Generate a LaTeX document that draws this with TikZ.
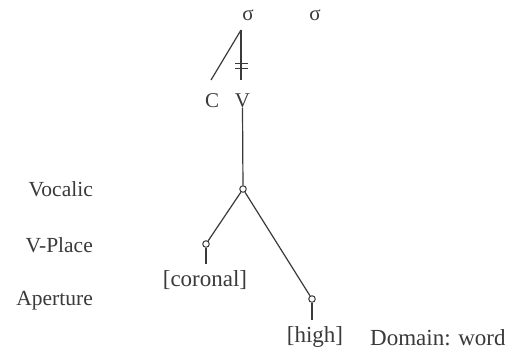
\documentclass[tikz,border=0pt]{standalone}
\usepackage{fontspec}
\setmainfont{Liberation Serif}
\definecolor{ink}{HTML}{3A3A3A}
\begin{document}
\begin{tikzpicture}[x=1pt,y=-1pt,
  every node/.style={inner sep=0pt, text=ink, font=\fontsize{21}{24}\selectfont},
  lbl/.style={anchor=base},
  tier/.style={anchor=base east, font=\fontsize{21.5}{24}\selectfont},
  feat/.style={anchor=base, inner ysep=5.5pt, font=\fontsize{23}{26}\selectfont},
  dot/.style={circle, draw=ink, fill=white, line width=1pt, minimum size=6.5pt, inner sep=0pt},
  link/.style={draw=ink, line width=1.2pt}]
\useasboundingbox[fill=white] (0,0) rectangle (505,359);
% syllables
\node[lbl] (s1) at (248,20) {σ};
\node[lbl] (s2) at (315,20) {σ};
\coordinate (sj) at (241,30);
\coordinate (ct) at (211,80);
\coordinate (vt) at (241,80);
\node[lbl] (C) at (212,107) {C};
\node[lbl] (V) at (242.5,107) {V};
\draw[link] (sj) -- (ct);
\draw[link] (sj) -- (vt);
\coordinate (x1a) at (235,63.3);
\coordinate (x1b) at (248,63.3);
\coordinate (x2a) at (235,68.6);
\coordinate (x2b) at (248,68.6);
\draw[link] (x1a) -- (x1b);
\draw[link] (x2a) -- (x2b);
% tiers
\node[tier] (tv) at (93,196) {Vocalic};
\node[tier] (tp) at (93,252.5) {V-Place};
\node[tier] (ta) at (93,305) {Aperture};
% feature tree
\node[dot] (voc) at (243,189) {};
\node[dot] (vp) at (206,244) {};
\node[dot] (ap) at (312,299) {};
\node[feat] (cor) at (205,286) {[coronal]};
\node[feat] (high) at (315,342) {[high]};
\node[anchor=base west, font=\fontsize{23}{26}\selectfont] (dom) at (370,345) {Domain: word};
\draw[link] (V.south) -- (voc);
\draw[link] (voc) -- (vp);
\draw[link] (voc) -- (ap);
\draw[link] (vp) -- (vp |- cor.north);
\draw[link] (ap) -- (ap |- high.north);
\end{tikzpicture}
\end{document}
